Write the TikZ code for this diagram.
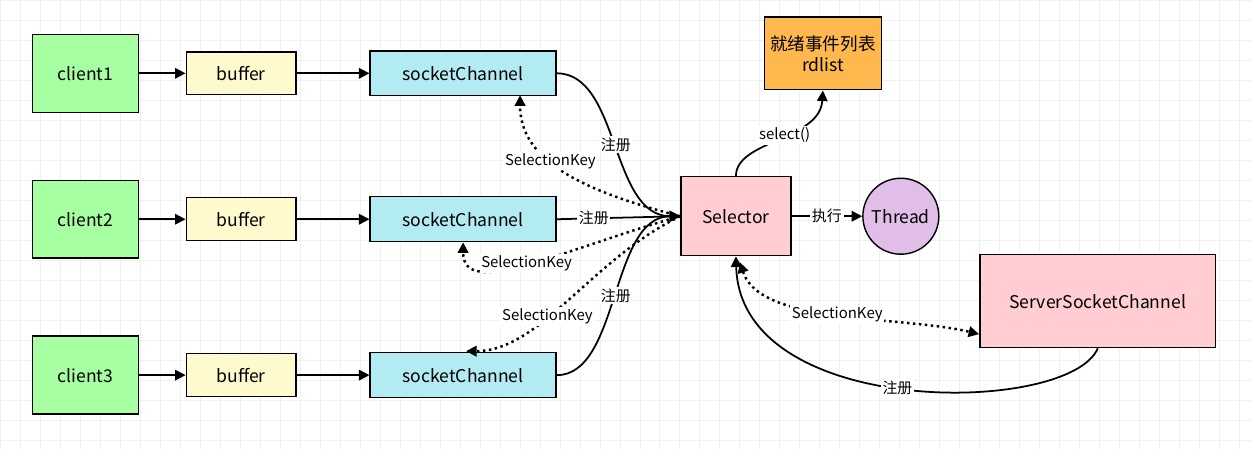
\documentclass[tikz,border=0pt]{standalone}
\usepackage{fontspec}
\setmainfont{Noto Sans CJK SC}
\usetikzlibrary{arrows.meta,positioning,shapes}
\definecolor{clientgreen}{HTML}{A6FFA0}
\definecolor{bufyellow}{HTML}{FFFACD}
\definecolor{chancyan}{HTML}{B3EBF2}
\definecolor{selpink}{HTML}{FFCDD2}
\definecolor{rdorange}{HTML}{FFB84D}
\definecolor{thrpurple}{HTML}{E1BEE7}
\begin{document}
\begin{tikzpicture}[x=0.02cm,y=-0.02cm,>={Triangle[length=6pt,width=6pt]},
    line width=1pt,font=\fontsize{10}{12}\selectfont,
    box/.style={draw,line width=0.8pt,inner sep=0pt},
    client/.style={box,fill=clientgreen,minimum width=2.12cm,minimum height=1.56cm},
    buf/.style={box,fill=bufyellow,minimum width=2.2cm,minimum height=0.86cm},
    chan/.style={box,fill=chancyan,minimum width=3.72cm,minimum height=0.9cm},
    lbl/.style={fill=white,inner sep=1pt,font=\fontsize{8.5}{10}\selectfont},
    dot/.style={dotted,line width=1.4pt}]

        % background and grid
        \fill[white] (0,0) rectangle (1251,449);
        \draw[black!6,thin,step=0.4cm] (0,0) grid (1251,449);
        \useasboundingbox (0,0) rectangle (1251,449);

        \node[client] (c1) at (85,73) {client1};
        \node[client] (c2) at (85,219) {client2};
        \node[client] (c3) at (85,375) {client3};
        \node[buf] (b1) at (241,73) {buffer};
        \node[buf] (b2) at (241,219) {buffer};
        \node[buf] (b3) at (241,375) {buffer};
        \node[chan] (s1) at (463,73) {socketChannel};
        \node[chan] (s2) at (463,219) {socketChannel};
        \node[chan] (s3) at (463,375) {socketChannel};
        \node[box,fill=selpink,minimum width=2.2cm,minimum height=1.58cm] (sel) at (736,216) {Selector};
        \node[box,fill=rdorange,minimum width=2.34cm,minimum height=1.46cm,align=center] (rd) at (823,53) {就绪事件列表\\rdlist};
        \node[box,circle,fill=thrpurple,minimum size=1.52cm] (thr) at (901,216) {Thread};
        \node[box,fill=selpink,minimum width=4.72cm,minimum height=1.86cm] (ssc) at (1098,301) {ServerSocketChannel};

        \foreach \i in {1,2,3} {
            \draw[->] (c\i) -- (b\i);
            \draw[->] (b\i) -- (s\i);
        }

        \draw[->] (s1.east) .. controls (620,73) and (610,216) .. node[lbl,pos=0.5] {注册} (sel.west);
        \draw[->] (s2.east) -- node[lbl,pos=0.3] {注册} (sel.west);
        \draw[->] (s3.east) .. controls (620,375) and (610,216) .. node[lbl,pos=0.5] {注册} (sel.west);

        \draw[dot,->] (sel.west) .. controls (580,190) and (520,160) .. node[lbl,pos=0.58] {SelectionKey} (520,95);
        \draw[dot,->] (sel.west) .. controls (560,250) and (463,300) .. node[lbl,pos=0.5] {SelectionKey} (s2.south);
        \draw[dot,->] (sel.west) .. controls (590,260) and (540,351) .. node[lbl,pos=0.6] {SelectionKey} (466,351);

        \draw[->] (sel) -- node[lbl] {执行} (thr);
        \draw[->] (sel.north) .. controls (736,140) and (820,140) .. node[lbl,pos=0.55] {select()} (rd.south);

        \draw[dot,<->] (740,262) .. controls (760,325) and (900,315) .. node[lbl,pos=0.5] {SelectionKey} (ssc.west |- 334,334);
        \draw[->] (ssc.south) .. controls (1070,415) and (740,420) .. node[lbl,pos=0.52] {注册} (sel.south);
      \end{tikzpicture}
\end{document}
